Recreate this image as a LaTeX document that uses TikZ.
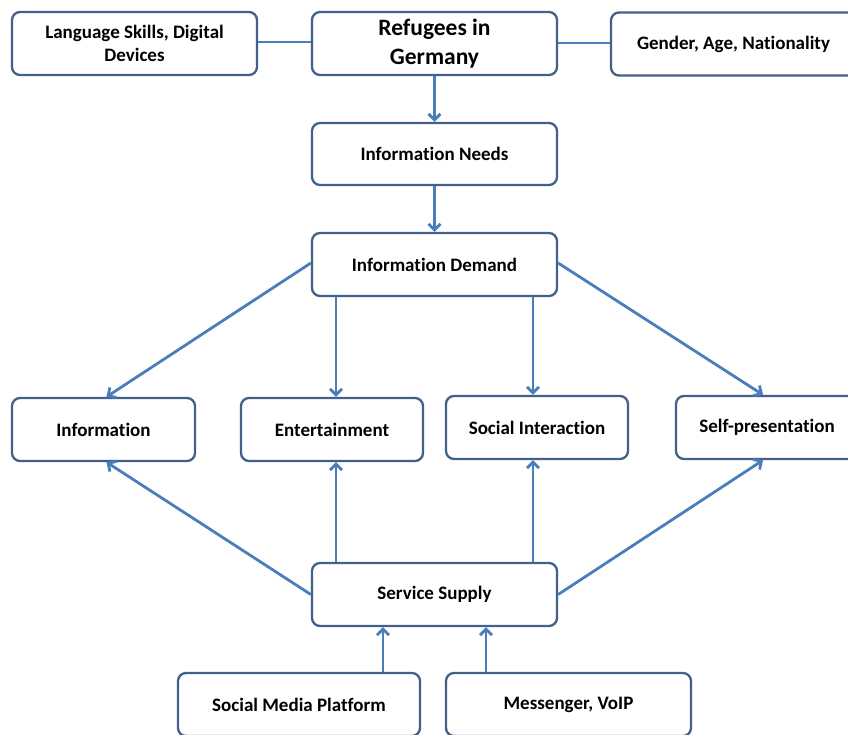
\documentclass[tikz,border=0pt]{standalone}
\usepackage{fontspec}
\setmainfont{Carlito}[Ligatures=NoCommon]
\usetikzlibrary{arrows.meta}
\definecolor{boxc}{HTML}{41618A}
\definecolor{arrc}{HTML}{4A7EBB}
\begin{document}
\begin{tikzpicture}[x=1pt,y=-1pt,
  box/.style={draw=boxc,line width=2.3pt,rounded corners=8pt,fill=white,
    align=center,font=\fontsize{19}{23.5}\selectfont\bfseries,inner sep=2pt},
  arr/.style={draw=arrc,line width=2.8pt,-{Straight Barb[length=6pt,width=12pt]}},
  lin/.style={draw=arrc,line width=2.8pt}]
\useasboundingbox (0,0) rectangle (848,734);
\clip (0,0) rectangle (848,734);
\node[box,minimum width=245pt,minimum height=63pt] (lang) at (134.5,43.5) {Language Skills, Digital\\Devices};
\node[box,minimum width=245pt,minimum height=63pt,font=\fontsize{23.5}{29}\selectfont\bfseries] (ref) at (434.5,43.5) {Refugees in\\Germany};
\node[box,minimum width=245pt,minimum height=63pt] (gen) at (733.5,44) {Gender, Age, Nationality};
\node[box,minimum width=245pt,minimum height=62pt] (need) at (434.5,154) {Information Needs};
\node[box,minimum width=245pt,minimum height=63pt] (dem) at (434.5,264.5) {Information Demand};
\node[box,minimum width=183pt,minimum height=63pt] (info) at (103.5,429.5) {Information};
\node[box,minimum width=182pt,minimum height=63pt] (ent) at (332,429.5) {Entertainment};
\node[box,minimum width=182pt,minimum height=63pt] (soc) at (537,427.5) {Social Interaction};
\node[box,minimum width=182pt,minimum height=63pt] (self) at (767,427.5) {Self-presentation};
\node[box,minimum width=245pt,minimum height=63pt] (serv) at (434.5,594.5) {Service Supply};
\node[box,minimum width=242pt,minimum height=63pt] (smp) at (299,704.5) {Social Media Platform};
\node[box,minimum width=245pt,minimum height=63pt] (msg) at (568.5,704.5) {Messenger, VoIP};
% anchor points
\coordinate (infoT) at ([xshift=3pt]info.north);
\coordinate (infoB) at ([xshift=3pt]info.south);
\coordinate (entT) at ([xshift=4pt]ent.north);
\coordinate (entB) at ([xshift=4pt]ent.south);
\coordinate (socT) at ([xshift=-4pt]soc.north);
\coordinate (socB) at ([xshift=-4pt]soc.south);
\coordinate (selfT) at ([xshift=-4pt]self.north);
\coordinate (selfB) at ([xshift=-4pt]self.south);
\coordinate (smpT) at ([xshift=84pt]smp.north);
\coordinate (msgT) at ([xshift=-82.5pt]msg.north);
% connectors
\draw[lin] (lang.east |- 0,42) -- (ref.west |- 0,42);
\draw[lin] (ref.east |- 0,43) -- (gen.west |- 0,43);
\draw[arr] (ref) -- (need);
\draw[arr] (need) -- (dem);
\draw[arr] ([yshift=1.5pt]dem.west) -- (infoT);
\draw[arr] (dem.south -| entT) -- (entT);
\draw[arr] (dem.south -| socT) -- (socT);
\draw[arr] ([yshift=1.5pt]dem.east) -- (selfT);
\draw[arr] (serv.west) -- (infoB);
\draw[arr] (serv.north -| entB) -- (entB);
\draw[arr] (serv.north -| socB) -- (socB);
\draw[arr] (serv.east) -- (selfB);
\draw[arr] (smpT) -- (serv.south -| smpT);
\draw[arr] (msgT) -- (serv.south -| msgT);
\end{tikzpicture}
\end{document}
